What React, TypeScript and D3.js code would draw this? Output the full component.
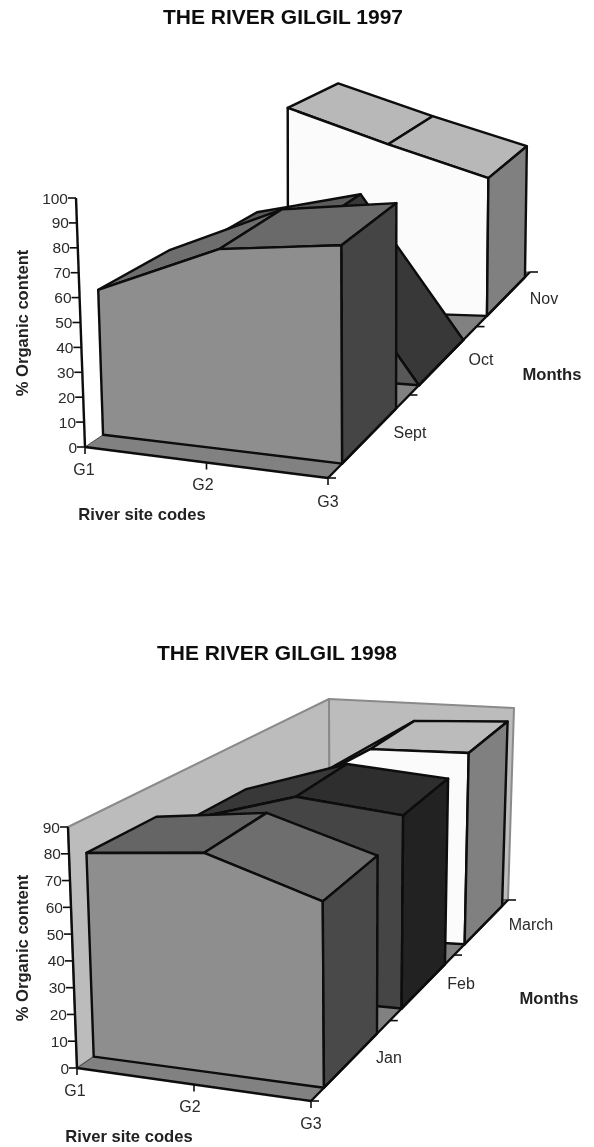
import React from "react";
import * as d3 from "d3";

const sites = ["G1", "G2", "G3"];

const months1997 = ["Sept", "Oct", "Nov"];
const sept1997 = [59, 81, 88];
const oct1997 = [54, 65, 0];
const nov1997 = [95, 80, 66];
const ticks1997 = [0, 10, 20, 30, 40, 50, 60, 70, 80, 90, 100];

const months1998 = ["Jan", "Feb", "March"];
const jan1998 = [77, 85, 74];
const feb1998 = [69, 84, 82];
const mar1998 = [58, 84, 86];
const ticks1998 = [0, 10, 20, 30, 40, 50, 60, 70, 80, 90];

type Pt = [number, number];
type Cube = { fl0: Pt; fr0: Pt; br0: Pt; bl0: Pt; fl1: Pt; fr1: Pt; br1: Pt; bl1: Pt };
type Style = { front: string; tops: string[]; side: string };
type Label = { text: string; x: number; y: number };

const mix = (a: number, b: number, t: number) => d3.interpolateNumber(a, b)(t);
const mixPt = (a: Pt, b: Pt, t: number): Pt => [mix(a[0], b[0], t), mix(a[1], b[1], t)];

const FONT = "'Liberation Sans', Arial, sans-serif";
const line = d3.line<Pt>().x((p) => p[0]).y((p) => p[1]);
const closed = (pts: Pt[]) => line(pts) + "Z";

type ChartProps = {
  title: string;
  titleX: number;
  titleY: number;
  months: string[];
  series: number[][];
  styles: Style[];
  maxValue: number;
  ticks: number[];
  cube: Cube;
  depthRange: number[];
  walls: boolean;
  siteLabels: Label[];
  monthLabels: Label[];
  xTitle: Label;
  yTitle: Label;
  monthTitle: Label;
};

function Chart3D(props: ChartProps) {
  const { cube, series, styles } = props;
  const siteScale = d3.scaleLinear().domain([0, sites.length - 1]).range([0, 1]);
  // depth runs through each month's band: gap, bar, gap
  const depthScale = d3
    .scaleLinear()
    .domain([0, 0.15, 0.85, 1, 1.15, 1.85, 2, 2.15, 2.85, 3])
    .range(props.depthRange);
  const valueScale = d3.scaleLinear().domain([0, props.maxValue]).range([0, 1]);

  const project = (site: number, depth: number, value: number): Pt => {
    const s = siteScale(site);
    const d = depthScale(depth);
    const v = valueScale(value);
    const floor = mixPt(mixPt(cube.fl0, cube.fr0, s), mixPt(cube.bl0, cube.br0, s), d);
    const roof = mixPt(mixPt(cube.fl1, cube.fr1, s), mixPt(cube.bl1, cube.br1, s), d);
    return mixPt(floor, roof, v);
  };

  const order = d3.range(series.length).reverse();
  const last = sites.length - 1;
  const depthEnd = props.months.length;

  return (
    <g>
      <text x={props.titleX} y={props.titleY} fontFamily={FONT} fontWeight="bold" fontSize={21} fill="#111">
        {props.title}
      </text>

      {props.walls && (
        <g fill="#bcbcbc" stroke="#8a8a8a" strokeWidth={2} strokeLinejoin="round">
          <path d={closed([project(0, 0, 0), project(0, depthEnd, 0), project(0, depthEnd, props.maxValue), project(0, 0, props.maxValue)])} />
          <path d={closed([project(0, depthEnd, 0), project(last, depthEnd, 0), project(last, depthEnd, props.maxValue), project(0, depthEnd, props.maxValue)])} />
        </g>
      )}

      <path
        d={closed([project(0, 0, 0), project(last, 0, 0), project(last, depthEnd, 0), project(0, depthEnd, 0)])}
        fill="#818181"
        stroke="#333"
        strokeWidth={0.8}
      />

      {order.map((i) => {
        const vals = series[i];
        const st = styles[i];
        const z0 = i + 0.15;
        const z1 = i + 0.85;
        const front: Pt[] = [
          ...vals.map((v, k) => project(k, z0, v)),
          ...vals.map((_, k) => project(k, z0, 0)).reverse(),
        ];
        const side: Pt[] = [
          project(last, z0, vals[last]),
          project(last, z1, vals[last]),
          project(last, z1, 0),
          project(last, z0, 0),
        ];
        return (
          <g key={props.months[i]} stroke="#0a0a0a" strokeWidth={2.4} strokeLinejoin="round">
            {d3.range(last).map((k) => (
              <path
                key={k}
                fill={st.tops[k]}
                d={closed([project(k, z0, vals[k]), project(k + 1, z0, vals[k + 1]), project(k + 1, z1, vals[k + 1]), project(k, z1, vals[k])])}
              />
            ))}
            <path d={closed(front)} fill={st.front} />
            <path d={closed(side)} fill={st.side} />
          </g>
        );
      })}

      <g stroke="#0a0a0a" strokeWidth={2.4} fill="none">
        <path d={line([project(0, 0, 0), project(0, 0, props.maxValue)])!} />
        <path d={line([project(0, 0, 0), project(last, 0, 0)])!} />
        <path d={line([project(last, 0, 0), project(last, depthEnd, 0)])!} />
        {props.ticks.map((t) => {
          const p = project(0, 0, t);
          return <path key={t} d={line([p, [p[0] - 8, p[1]]])!} strokeWidth={1.6} />;
        })}
        {sites.map((_, k) => {
          const p = project(k, 0, 0);
          return <path key={k} d={line([p, [p[0], p[1] + 7]])!} strokeWidth={1.6} />;
        })}
        {d3.range(depthEnd + 1).map((k) => {
          const p = project(last, k, 0);
          return <path key={k} d={line([p, [p[0] + 8, p[1]]])!} strokeWidth={1.6} />;
        })}
      </g>

      <g fontFamily={FONT} fontSize={15.5} fill="#2a2a2a">
        {props.ticks.map((t) => {
          const p = project(0, 0, t);
          return (
            <text key={t} x={p[0] - 8} y={p[1] + 5.5} textAnchor="end">
              {t}
            </text>
          );
        })}
      </g>
      <g fontFamily={FONT} fontSize={16} fill="#2a2a2a">
        {props.siteLabels.map((l) => (
          <text key={l.text} x={l.x} y={l.y} textAnchor="middle">
            {l.text}
          </text>
        ))}
        {props.monthLabels.map((l) => (
          <text key={l.text} x={l.x} y={l.y} textAnchor="middle">
            {l.text}
          </text>
        ))}
      </g>

      <g fontFamily={FONT} fontWeight="bold" fontSize={16.6} fill="#222">
        <text x={props.xTitle.x} y={props.xTitle.y} textAnchor="middle">
          {props.xTitle.text}
        </text>
        <text x={props.monthTitle.x} y={props.monthTitle.y} textAnchor="middle">
          {props.monthTitle.text}
        </text>
        <text
          transform={`translate(${props.yTitle.x},${props.yTitle.y}) rotate(-90)`}
          textAnchor="middle"
        >
          {props.yTitle.text}
        </text>
      </g>
    </g>
  );
}

const label = (text: string, x: number, y: number): Label => ({ text, x, y });

export default function App() {
  return (
    <svg
      width={594}
      height={1147}
      viewBox="0 0 594 1147"
      style={{ position: "absolute", left: 0, top: 0, background: "#fff", display: "block" }}
    >
      <defs>
        <filter id="scan" x="0" y="0" width="100%" height="100%">
          <feGaussianBlur stdDeviation={0.45} />
        </filter>
      </defs>
      <g filter="url(#scan)">
        <Chart3D
          title="THE RIVER GILGIL 1997"
          titleX={163}
          titleY={24}
          months={months1997}
          series={[sept1997, oct1997, nov1997]}
          styles={[
            { front: "#8e8e8e", tops: ["#6e6e6e", "#6a6a6a"], side: "#454545" },
            { front: "#585858", tops: ["#5c5c5c", "#383838"], side: "#383838" },
            { front: "#fbfbfb", tops: ["#b8b8b8", "#b8b8b8"], side: "#808080" },
          ]}
          maxValue={100}
          ticks={ticks1997}
          cube={{
            fl0: [85, 447], fr0: [328, 478], br0: [530, 272], bl0: [343, 272],
            fl1: [76, 198], fr1: [327, 226], br1: [533, 75], bl1: [345, 70],
          }}
          depthRange={[0, 0.07, 0.337, 0.403, 0.45, 0.67, 0.735, 0.787, 0.975, 1]}
          walls={false}
          siteLabels={[label("G1", 84, 475), label("G2", 203, 490), label("G3", 328, 507)]}
          monthLabels={[label("Sept", 410, 438), label("Oct", 481, 365), label("Nov", 544, 304)]}
          xTitle={label("River site codes", 142, 520)}
          yTitle={label("% Organic content", 28, 323)}
          monthTitle={label("Months", 552, 380)}
        />
        <Chart3D
          title="THE RIVER GILGIL 1998"
          titleX={157}
          titleY={660}
          months={months1998}
          series={[jan1998, feb1998, mar1998]}
          styles={[
            { front: "#8e8e8e", tops: ["#656565", "#6e6e6e"], side: "#4a4a4a" },
            { front: "#444444", tops: ["#383838", "#2e2e2e"], side: "#222222" },
            { front: "#fbfbfb", tops: ["#bbbbbb", "#bbbbbb"], side: "#808080" },
          ]}
          maxValue={90}
          ticks={ticks1998}
          cube={{
            fl0: [77, 1068], fr0: [311, 1101], br0: [508, 900], bl0: [330, 895],
            fl1: [68, 827], fr1: [309, 872], br1: [514, 708], bl1: [329, 699],
          }}
          depthRange={[0, 0.066, 0.335, 0.4, 0.46, 0.68, 0.726, 0.78, 0.97, 1]}
          walls={true}
          siteLabels={[label("G1", 75, 1096), label("G2", 190, 1112), label("G3", 311, 1129)]}
          monthLabels={[label("Jan", 389, 1063), label("Feb", 461, 989), label("March", 531, 930)]}
          xTitle={label("River site codes", 129, 1142)}
          yTitle={label("% Organic content", 28, 948)}
          monthTitle={label("Months", 549, 1004)}
        />
      </g>
    </svg>
  );
}
